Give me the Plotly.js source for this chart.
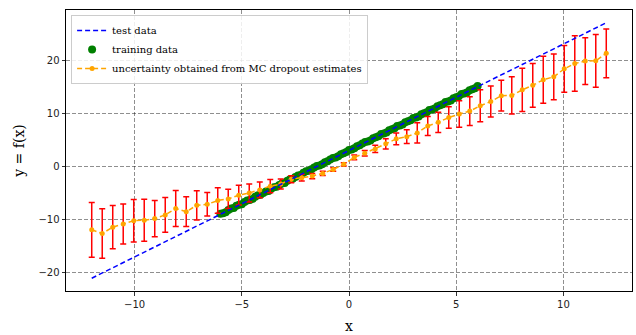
<!DOCTYPE html>
<html>
<head>
<meta charset="utf-8">
<script src="https://cdn.plot.ly/plotly-3.0.1.min.js"></script>
<style>
  html, body { margin: 0; padding: 0; background: #fff; }
  #chart { width: 636px; height: 335px; }
</style>
</head>
<body>
<div id="chart"></div>
<script>
// test data (true function)
const testX = [-12, 12];
const testY = [-21, 27];

// training data
const trainX = [-6, -5.875, -5.75, -5.625, -5.5, -5.375, -5.25, -5.125, -5, -4.875, -4.75, -4.625, -4.5, -4.375, -4.25, -4.125, -4, -3.875, -3.75, -3.625, -3.5, -3.375, -3.25, -3.125, -3, -2.875, -2.75, -2.625, -2.5, -2.375, -2.25, -2.125, -2, -1.875, -1.75, -1.625, -1.5, -1.375, -1.25, -1.125, -1, -0.875, -0.75, -0.625, -0.5, -0.375, -0.25, -0.125, 0, 0.125, 0.25, 0.375, 0.5, 0.625, 0.75, 0.875, 1, 1.125, 1.25, 1.375, 1.5, 1.625, 1.75, 1.875, 2, 2.125, 2.25, 2.375, 2.5, 2.625, 2.75, 2.875, 3, 3.125, 3.25, 3.375, 3.5, 3.625, 3.75, 3.875, 4, 4.125, 4.25, 4.375, 4.5, 4.625, 4.75, 4.875, 5, 5.125, 5.25, 5.375, 5.5, 5.625, 5.75, 5.875, 6];
const trainY = [-8.9, -8.8, -8.6, -8.2, -7.9, -7.8, -7.4, -7.2, -7.1, -6.7, -6.4, -6.3, -6.1, -5.7, -5.4, -5.3, -5.0, -4.7, -4.6, -4.2, -3.9, -3.8, -3.5, -3.2, -3.1, -2.7, -2.4, -2.3, -2.0, -1.7, -1.6, -1.2, -0.9, -0.8, -0.5, -0.2, 0.1, 0.2, 0.4, 0.8, 1.0, 1.3, 1.6, 1.7, 1.9, 2.3, 2.5, 2.7, 3.1, 3.2, 3.4, 3.8, 4.0, 4.3, 4.6, 4.7, 4.9, 5.3, 5.5, 5.7, 6.1, 6.2, 6.4, 6.8, 7.0, 7.2, 7.6, 7.7, 7.9, 8.3, 8.5, 8.7, 9.1, 9.2, 9.4, 9.8, 10.0, 10.2, 10.6, 10.7, 10.9, 11.3, 11.5, 11.7, 12.1, 12.2, 12.4, 12.8, 13.0, 13.2, 13.6, 13.7, 13.9, 14.3, 14.5, 14.7, 15.1];

// MC dropout estimates
const mcX = [-12, -11.51, -11.02, -10.531, -10.041, -9.551, -9.061, -8.571, -8.082, -7.592, -7.102, -6.612, -6.122, -5.633, -5.143, -4.653, -4.163, -3.673, -3.184, -2.694, -2.204, -1.714, -1.224, -0.735, -0.245, 0.245, 0.735, 1.224, 1.714, 2.204, 2.694, 3.184, 3.673, 4.163, 4.653, 5.143, 5.633, 6.122, 6.612, 7.102, 7.592, 8.082, 8.571, 9.061, 9.551, 10.041, 10.531, 11.02, 11.51, 12];
const mcMean = [-11.9, -12.6, -11.4, -10.8, -10.2, -10.1, -9.8, -9.1, -7.9, -8.5, -7.3, -7.1, -6.4, -6.1, -5.4, -5.0, -4.4, -3.7, -3.3, -2.4, -2.1, -1.8, -1.3, -0.55, 0.4, 1.7, 2.5, 3.3, 4.25, 5.2, 5.6, 6.3, 7.6, 8.3, 9.2, 9.85, 10.4, 11.4, 12.2, 13.3, 13.35, 14.4, 15.25, 16.3, 16.85, 18.35, 19.35, 19.8, 19.85, 21.25];
const mcErr = [5.15, 4.65, 4.05, 3.75, 4.0, 3.95, 3.4, 3.25, 3.4, 2.8, 2.75, 2.2, 2.4, 1.8, 1.85, 1.7, 1.5, 1.25, 0.95, 0.65, 0.65, 0.5, 0.4, 0.33, 0.3, 0.45, 0.52, 0.68, 0.95, 1.1, 1.3, 1.9, 1.8, 1.9, 2.0, 2.5, 2.7, 3.0, 2.9, 2.9, 3.5, 4.05, 4.1, 4.4, 4.3, 4.4, 5.2, 4.4, 4.95, 4.6];

const xTicks = [-10, -5, 0, 5, 10];
const yTicks = [-20, -10, 0, 10, 20];

const serif = "DejaVu Serif, serif";
const sans = "DejaVu Sans, sans-serif";

const traces = [
  {
    x: trainX, y: trainY, type: 'scatter', mode: 'markers',
    name: 'training data', legendrank: 2,
    marker: { color: '#008000', size: 8, line: { width: 0 } }
  },
  {
    x: mcX, y: mcMean, type: 'scatter', mode: 'lines+markers',
    name: 'uncertainty obtained from MC dropout estimates', legendrank: 3,
    line: { color: '#FFA500', width: 1.5, dash: '5px,3px' },
    marker: { color: '#FFA500', size: 5 },
    error_y: { type: 'data', array: mcErr, visible: true, color: '#FF0000', thickness: 1.5, width: 3 }
  },
  {
    x: testX, y: testY, type: 'scatter', mode: 'lines',
    name: 'test data', legendrank: 1,
    line: { color: '#0000FF', width: 1.5, dash: '5px,3px' }
  }
];

const axisCommon = {
  showline: true, linecolor: '#000', linewidth: 1, mirror: true,
  ticks: 'outside', ticklen: 3.5, tickwidth: 0.8, tickcolor: '#000',
  showgrid: true, gridcolor: 'rgba(0,0,0,0.55)', gridwidth: 0.8, griddash: '4px,2px',
  zeroline: false,
  tickfont: { family: sans, size: 10, color: '#222' }
};

const layout = {
  width: 636, height: 335,
  margin: { l: 66, r: 4, t: 10, b: 44 },
  paper_bgcolor: '#fff', plot_bgcolor: '#fff',
  showlegend: true,
  legend: {
    x: 0.009, y: 0.982, xanchor: 'left', yanchor: 'top',
    bgcolor: 'rgba(255,255,255,0.85)', bordercolor: '#cccccc', borderwidth: 1,
    font: { family: serif, size: 10, color: '#000' },
    traceorder: 'normal', tracegroupgap: 0, itemwidth: 30
  },
  xaxis: Object.assign({}, axisCommon, {
    range: [-13.2, 13.2], tickvals: xTicks,
    title: { text: 'x', font: { family: serif, size: 14, color: '#000' }, standoff: 12 }
  }),
  yaxis: Object.assign({}, axisCommon, {
    range: [-23.4, 29.4], tickvals: yTicks,
    title: { text: 'y = f(x)', font: { family: serif, size: 14, color: '#000' }, standoff: 10 }
  })
};

Plotly.newPlot('chart', traces, layout, { displayModeBar: false, staticPlot: true });
</script>
</body>
</html>
